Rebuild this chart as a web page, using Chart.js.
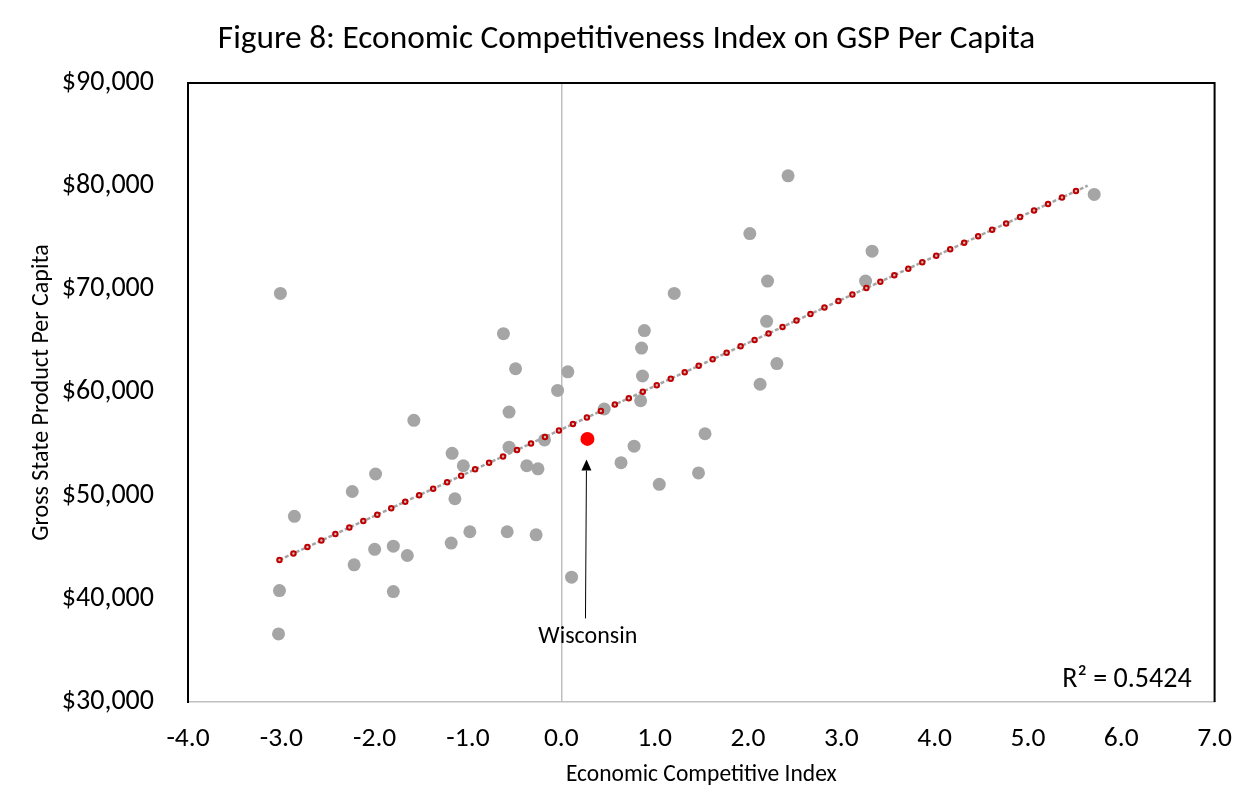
<!DOCTYPE html>
<html><head><meta charset="utf-8">
<script src="https://cdn.jsdelivr.net/npm/chart.js@4.4.1/dist/chart.umd.min.js"></script>
<style>html,body{margin:0;padding:0;background:#fff;}#wrap{width:1253px;height:812px;}</style>
</head><body><div id="wrap"><canvas id="c" width="1253" height="812"></canvas></div>
<script>
// ---- data ----
const stateX = [-3.01,-0.62,-0.49,0.07,-0.04,2.43,2.02,3.33,2.21,3.26,1.21,2.20,0.89,0.86,2.31,0.87,2.13,5.71,
  -0.56,-1.58,-0.18,-0.56,-1.17,-1.05,-0.37,-0.25,-1.99,-2.24,-1.14,-2.86,-0.98,-0.58,-0.27,-1.18,-1.80,-2.00,
  -1.65,-2.22,-3.02,-1.80,0.11,-3.03,0.85,0.46,1.54,0.78,0.64,1.47,1.05];
const stateY = [69600,65700,62300,62000,60200,81000,75400,73700,70800,70800,69600,66900,66000,64300,62800,61600,60800,79200,
  58100,57300,55400,54700,54100,52900,52900,52600,52100,50400,49700,48000,46500,46500,46200,45400,45100,44800,
  44200,43300,40800,40700,42100,36600,59200,58400,56000,54800,53200,52200,51100];
const wisconsinX = [0.28];
const wisconsinY = [55500];
const trendX = [-3.02, 5.64];
const trendY = [43770, 80050];
const arrowX = [0.259, 0.270];   // base, tip
const arrowY = [38100, 53500];
const labelWisconsin = {x: 0.284, y: 36300, text: 'Wisconsin'};
const r2Text = 'R\u00B2 = 0.5424';
const titleText = 'Figure 8: Economic Competitiveness Index on GSP Per Capita';
const xTitle = 'Economic Competitive Index';
const yTitle = 'Gross State Product Per Capita';
const xMin = -4, xMax = 7, xStep = 1;
const yMin = 30000, yMax = 90000, yStep = 10000;

const FONT = "Carlito, Calibri, 'Open Sans', sans-serif";

const pts = (xs, ys) => xs.map((x, i) => ({x: x, y: ys[i]}));

const decor = {
  id: 'decor',
  beforeDatasetsDraw(chart) {
    const {ctx, chartArea: a} = chart;
    ctx.save();
    ctx.strokeStyle = '#000';
    ctx.lineWidth = 2;
    ctx.beginPath();
    ctx.moveTo(a.left, a.bottom);
    ctx.lineTo(a.left, a.top);
    ctx.lineTo(a.right, a.top);
    ctx.lineTo(a.right, a.bottom);
    ctx.stroke();
    ctx.restore();
  },
  afterDatasetsDraw(chart) {
    const {ctx, chartArea: a, scales: {x, y}} = chart;
    ctx.save();
    // arrow
    const bx = x.getPixelForValue(arrowX[0]), by = y.getPixelForValue(arrowY[0]);
    const tx = x.getPixelForValue(arrowX[1]), ty = y.getPixelForValue(arrowY[1]);
    const ang = Math.atan2(ty - by, tx - bx);
    const headL = 11, headW = 5;
    const hx = tx - headL * Math.cos(ang), hy = ty - headL * Math.sin(ang);
    ctx.strokeStyle = '#000';
    ctx.lineWidth = 1;
    ctx.beginPath(); ctx.moveTo(bx, by); ctx.lineTo(hx, hy); ctx.stroke();
    ctx.fillStyle = '#000';
    ctx.beginPath();
    ctx.moveTo(tx, ty);
    ctx.lineTo(hx + headW * Math.sin(ang), hy - headW * Math.cos(ang));
    ctx.lineTo(hx - headW * Math.sin(ang), hy + headW * Math.cos(ang));
    ctx.closePath(); ctx.fill();
    // Wisconsin label
    ctx.font = '24px ' + FONT;
    ctx.textAlign = 'center';
    ctx.textBaseline = 'middle';
    ctx.fillText(labelWisconsin.text, x.getPixelForValue(labelWisconsin.x), y.getPixelForValue(labelWisconsin.y));
    // R^2
    ctx.font = '28px ' + FONT;
    ctx.textAlign = 'right';
    ctx.fillText(r2Text, a.right - 23, a.bottom - 22);
    ctx.restore();
  }
};

new Chart(document.getElementById('c'), {
  type: 'scatter',
  data: {
    datasets: [
      {data: pts(trendX, trendY), showLine: true, borderColor: '#C8B8B8', borderWidth: 2.5,
       borderDash: [0, 15.4], borderCapStyle: 'round', pointRadius: 0, order: 1},
      {data: pts(trendX, trendY), showLine: true, borderColor: '#C00000', borderWidth: 6.5,
       borderDash: [0, 15.4], borderCapStyle: 'round', pointRadius: 0, order: 2},
      {data: pts(trendX, trendY), showLine: true, borderColor: '#A5A5A5', borderWidth: 2.5,
       borderDash: [4, 2], pointRadius: 0, order: 3},
      {data: pts(wisconsinX, wisconsinY), backgroundColor: '#FF0000', borderWidth: 0, pointRadius: 7, order: 9},
      {data: pts(stateX, stateY), backgroundColor: '#A5A5A5', borderWidth: 0, pointRadius: 6.5, order: 10}
    ]
  },
  options: {
    responsive: false, animation: false, devicePixelRatio: 1,
    layout: {padding: {left: 0, right: 0, top: 0, bottom: 0}},
    plugins: {
      legend: {display: false}, tooltip: {enabled: false},
      title: {display: true, text: titleText, color: '#000',
        font: {family: FONT, size: 33.3, weight: 'normal'}, padding: {top: 20, bottom: 23}}
    },
    scales: {
      x: {
        type: 'linear', min: xMin, max: xMax,
        ticks: {stepSize: xStep, color: '#000', padding: 21, maxRotation: 0, autoSkip: false,
          font: {family: FONT, size: 27.5}, callback: v => Number(v).toFixed(1)},
        grid: {drawTicks: false, lineWidth: 1.5,
          color: c => (c.tick && c.tick.value === 0) ? '#BFBFBF' : 'rgba(0,0,0,0)'},
        border: {display: true, color: '#BFBFBF', width: 1.5},
        title: {display: true, text: xTitle, color: '#000', font: {family: FONT, size: 23.5},
          padding: {top: 0, bottom: 23}},
        afterFit: s => { s.height = 110; }
      },
      y: {
        type: 'linear', min: yMin, max: yMax,
        ticks: {stepSize: yStep, color: '#000', padding: 34,
          font: {family: FONT, size: 28}, callback: v => '$' + Number(v).toLocaleString('en-US')},
        grid: {display: false, drawTicks: false},
        border: {display: true, color: '#000', width: 2},
        title: {display: true, text: yTitle, color: '#000', font: {family: FONT, size: 24},
          padding: {top: 28, bottom: 0}},
        afterFit: s => { s.width = 188; }
      },
      yRightSpace: {
        type: 'linear', position: 'right', display: true,
        ticks: {display: false}, grid: {display: false, drawTicks: false},
        border: {display: false}, title: {display: false},
        afterFit: s => { s.width = 38; }
      }
    }
  },
  plugins: [decor]
});
</script>
</body></html>
